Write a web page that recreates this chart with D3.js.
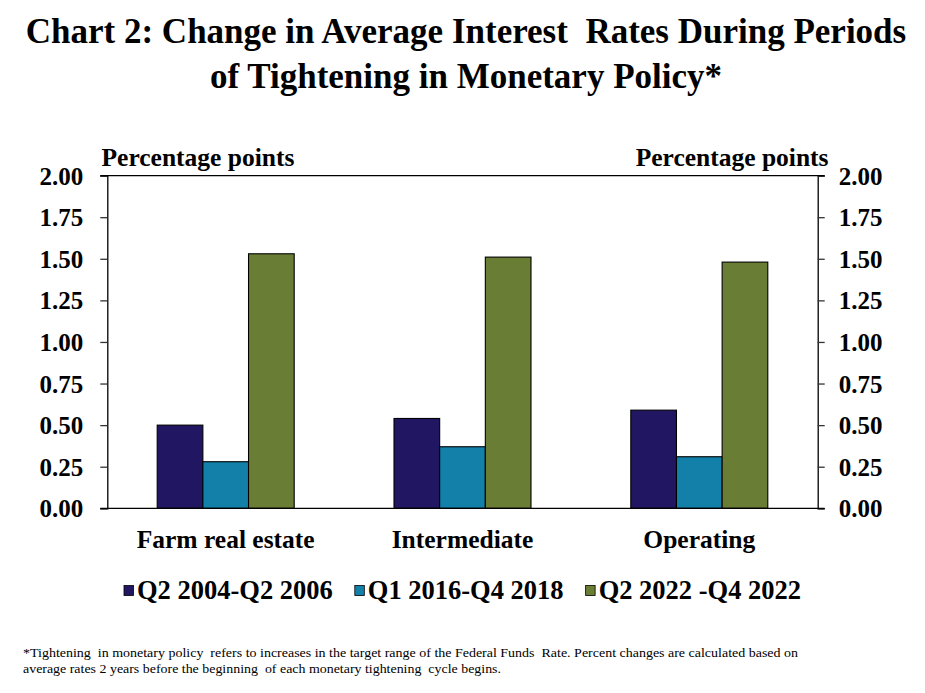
<!DOCTYPE html>
<html>
<head>
<meta charset="utf-8">
<script src="https://cdn.jsdelivr.net/npm/d3@7"></script>
<style>
  html, body { margin: 0; padding: 0; background: #fff; }
  svg text { font-family: "Liberation Serif", "Times New Roman", serif; fill: #000; }
</style>
</head>
<body>
<svg id="chart" width="925" height="693"></svg>
<script>
// ---- data ----
const categories = ["Farm real estate", "Intermediate", "Operating"];
const seriesNames = ["Q2 2004-Q2 2006", "Q1 2016-Q4 2018", "Q2 2022 -Q4 2022"];
const series2004 = [0.50, 0.54, 0.59];
const series2016 = [0.28, 0.37, 0.31];
const series2022 = [1.53, 1.51, 1.48];
const seriesColors = ["#211662", "#1380AA", "#6A7D35"];
const tickValues = [0, 0.25, 0.5, 0.75, 1.0, 1.25, 1.5, 1.75, 2.0];
const titleLines = ["Chart 2: Change in Average Interest  Rates During Periods",
                    "of Tightening in Monetary Policy*"];
const axisTitle = "Percentage points";
const footnoteLines = [
  "*Tightening  in monetary policy  refers to increases in the target range of the Federal Funds  Rate. Percent changes are calculated based on",
  "average rates 2 years before the beginning  of each monetary tightening  cycle begins."
];

const seriesValues = [series2004, series2016, series2022];

// ---- layout ----
const svg = d3.select("#chart");
const plot = { left: 107.3, right: 817.7, top: 175.6, bottom: 508.3 };

const y = d3.scaleLinear().domain([0, 2]).range([plot.bottom, plot.top]);
const pi = 0.4215;
const x0 = d3.scaleBand().domain(categories).range([plot.left, plot.right])
  .paddingInner(pi).paddingOuter(pi / 2);
const x1 = d3.scaleBand().domain(seriesNames).range([0, x0.bandwidth()]).padding(0);

// title
svg.append("g").selectAll("text").data(titleLines).join("text")
  .attr("x", 466).attr("y", (d, i) => 43 + i * 45)
  .attr("text-anchor", "middle")
  .style("font-size", "35px").style("font-weight", "bold")
  .style("white-space", "pre")
  .text(d => d);

// axis titles
svg.append("text").attr("x", 101.5).attr("y", 166)
  .style("font-size", "25.5px").style("font-weight", "bold").text(axisTitle);
svg.append("text").attr("x", 828.5).attr("y", 166).attr("text-anchor", "end")
  .style("font-size", "25.5px").style("font-weight", "bold").text(axisTitle);

// bars
const groups = svg.append("g").selectAll("g").data(categories).join("g")
  .attr("transform", d => `translate(${x0(d)},0)`);
groups.selectAll("rect")
  .data((c, ci) => seriesNames.map((s, si) => ({ s, si, v: seriesValues[si][ci] })))
  .join("rect")
  .attr("x", d => x1(d.s))
  .attr("width", x1.bandwidth())
  .attr("y", d => y(d.v))
  .attr("height", d => y(0) - y(d.v))
  .attr("fill", d => seriesColors[d.si])
  .attr("stroke", "#000").attr("stroke-width", 1.1);

// axes
const fmt = d3.format(".2f");
const leftAxis = d3.axisLeft(y).tickValues(tickValues).tickFormat(fmt).tickSize(7).tickPadding(17);
const rightAxis = d3.axisRight(y).tickValues(tickValues).tickFormat(fmt).tickSize(7).tickPadding(14);

function styleAxis(g) {
  g.select(".domain").attr("stroke", "#000").attr("stroke-width", 1.3);
  g.selectAll(".tick line").attr("stroke", "#333").attr("stroke-width", 1.3);
  g.selectAll(".tick text").style("font-size", "25px").style("font-weight", "bold")
    .attr("fill", "#000").attr("dy", "0.34em").style("font-family", '"Liberation Serif", "Times New Roman", serif');
}
svg.append("g").attr("transform", `translate(${plot.left},0)`).call(leftAxis).call(styleAxis);
svg.append("g").attr("transform", `translate(${plot.right},0)`).call(rightAxis).call(styleAxis);

// top and bottom frame lines
svg.append("line").attr("x1", plot.left - 7).attr("x2", plot.right + 7)
  .attr("y1", y(2)).attr("y2", y(2)).attr("stroke", "#000").attr("stroke-width", 1.3);
svg.append("line").attr("x1", plot.left - 7).attr("x2", plot.right + 7)
  .attr("y1", y(0)).attr("y2", y(0)).attr("stroke", "#000").attr("stroke-width", 1.3);

// category labels
svg.append("g").selectAll("text").data(categories).join("text")
  .attr("x", d => x0(d) + x0.bandwidth() / 2).attr("y", 548)
  .attr("text-anchor", "middle")
  .style("font-size", "25.5px").style("font-weight", "bold")
  .text(d => d);

// legend
const legend = svg.append("g");
let lx = 124;
seriesNames.forEach((name, i) => {
  legend.append("rect").attr("x", lx).attr("y", 585.5).attr("width", 9.5).attr("height", 10)
    .attr("fill", seriesColors[i]).attr("stroke", "#000").attr("stroke-width", 0.8);
  const t = legend.append("text").attr("x", lx + 13).attr("y", 598.5)
    .style("font-size", "26.5px").style("font-weight", "bold")
    .style("white-space", "pre").text(name);
  lx = lx + 13 + t.node().getComputedTextLength() + 22;
});

// footnote
svg.append("g").selectAll("text").data(footnoteLines).join("text")
  .attr("x", 23).attr("y", (d, i) => 657 + i * 15.5)
  .style("font-size", "13.5px").style("white-space", "pre")
  .attr("textLength", (d, i) => i === 0 ? 775 : 478)
  .attr("lengthAdjust", "spacingAndGlyphs")
  .text(d => d);
</script>
</body>
</html>
